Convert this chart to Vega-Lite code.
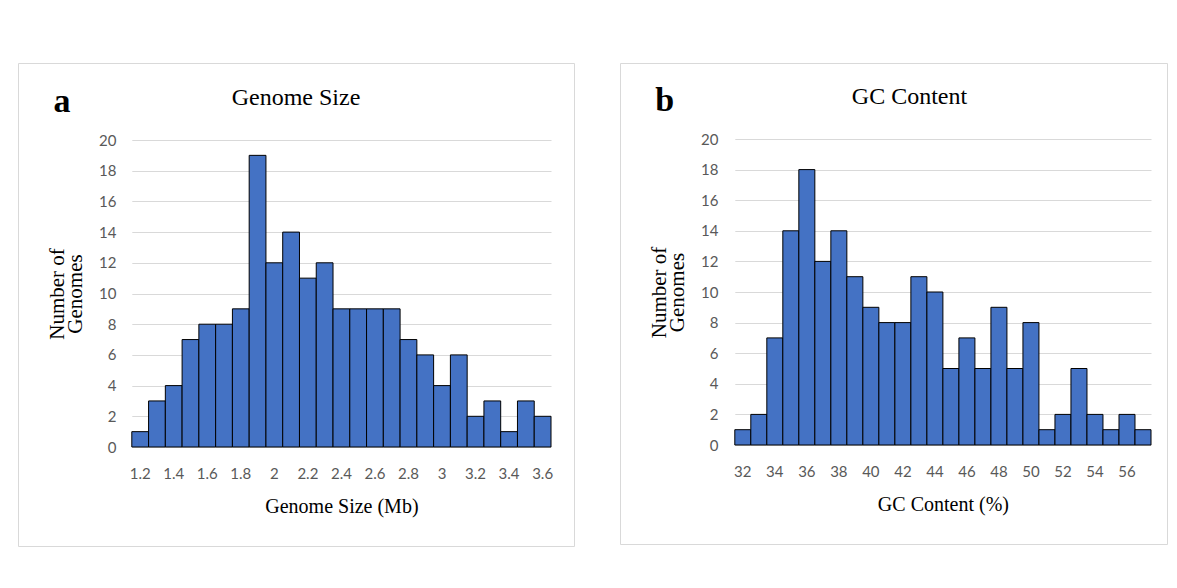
{
  "$schema": "https://vega.github.io/schema/vega-lite/v6.json",
  "background": "white",
  "padding": {"left": 17, "top": 62, "right": 9, "bottom": 38},
  "datasets": {
    "sizes": [
      {"size": 1.2, "count": 1}, {"size": 1.3, "count": 3}, {"size": 1.4, "count": 4}, {"size": 1.5, "count": 7},
      {"size": 1.6, "count": 8}, {"size": 1.7, "count": 8}, {"size": 1.8, "count": 9}, {"size": 1.9, "count": 19},
      {"size": 2.0, "count": 12}, {"size": 2.1, "count": 14}, {"size": 2.2, "count": 11}, {"size": 2.3, "count": 12},
      {"size": 2.4, "count": 9}, {"size": 2.5, "count": 9}, {"size": 2.6, "count": 9}, {"size": 2.7, "count": 9},
      {"size": 2.8, "count": 7}, {"size": 2.9, "count": 6}, {"size": 3.0, "count": 4}, {"size": 3.1, "count": 6},
      {"size": 3.2, "count": 2}, {"size": 3.3, "count": 3}, {"size": 3.4, "count": 1}, {"size": 3.5, "count": 3},
      {"size": 3.6, "count": 2}
    ],
    "gc": [
      {"gc": 32, "count": 1}, {"gc": 33, "count": 2}, {"gc": 34, "count": 7}, {"gc": 35, "count": 14},
      {"gc": 36, "count": 18}, {"gc": 37, "count": 12}, {"gc": 38, "count": 14}, {"gc": 39, "count": 11},
      {"gc": 40, "count": 9}, {"gc": 41, "count": 8}, {"gc": 42, "count": 8}, {"gc": 43, "count": 11},
      {"gc": 44, "count": 10}, {"gc": 45, "count": 5}, {"gc": 46, "count": 7}, {"gc": 47, "count": 5},
      {"gc": 48, "count": 9}, {"gc": 49, "count": 5}, {"gc": 50, "count": 8}, {"gc": 51, "count": 1},
      {"gc": 52, "count": 2}, {"gc": 53, "count": 5}, {"gc": 54, "count": 2}, {"gc": 55, "count": 1},
      {"gc": 56, "count": 2}, {"gc": 57, "count": 1}
    ],
    "labelA": [{"label": "a"}],
    "labelB": [{"label": "b"}]
  },
  "hconcat": [
    {
      "width": 556,
      "height": 483,
      "title": {"text": "Genome Size", "offset": -66, "baseline": "alphabetic", "dx": 0},
      "layer": [
        {
          "data": {"name": "sizes"},
          "mark": {"type": "bar", "fill": "#4472C4", "stroke": "#000000", "strokeWidth": 1},
          "encoding": {
            "x": {
              "field": "size", "type": "ordinal",
              "scale": {"range": [113.8, 533], "paddingInner": 0, "paddingOuter": 0},
              "axis": {
                "title": "Genome Size (Mb)",
                "values": [1.2, 1.4, 1.6, 1.8, 2, 2.2, 2.4, 2.6, 2.8, 3, 3.2, 3.4, 3.6],
                "labelAngle": 0, "offset": -99, "labelPadding": 19, "titlePadding": 15,
                "labelOverlap": false, "labelBound": false,
                "domain": false, "ticks": false, "grid": false
              }
            },
            "y": {
              "field": "count", "type": "quantitative",
              "scale": {"domain": [0, 20], "range": [384, 77], "nice": false},
              "axis": {
                "title": ["Number of", "Genomes"],
                "values": [0, 2, 4, 6, 8, 10, 12, 14, 16, 18, 20],
                "offset": -114, "labelPadding": 16, "titlePadding": 13,
                "domain": false, "ticks": false, "grid": true
              }
            }
          }
        },
        {
          "data": {"name": "labelA"},
          "mark": {"type": "text", "font": "Liberation Serif", "fontWeight": "bold", "fontSize": 34, "align": "center", "baseline": "alphabetic", "dx": -95, "dy": -28, "color": "#000000"},
          "encoding": {
            "x": {"datum": 1.3, "type": "ordinal"},
            "y": {"datum": 20, "type": "quantitative"},
            "text": {"field": "label"}
          }
        }
      ]
    },
    {
      "width": 547,
      "height": 481,
      "title": {"text": "GC Content", "offset": -65, "baseline": "alphabetic", "dx": 16},
      "layer": [
        {
          "data": {"name": "gc"},
          "mark": {"type": "bar", "fill": "#4472C4", "stroke": "#000000", "strokeWidth": 1},
          "encoding": {
            "x": {
              "field": "gc", "type": "ordinal",
              "scale": {"range": [114.8, 531], "paddingInner": 0, "paddingOuter": 0},
              "axis": {
                "title": "GC Content (%)",
                "values": [32, 34, 36, 38, 40, 42, 44, 46, 48, 50, 52, 54, 56],
                "labelAngle": 0, "offset": -99, "labelPadding": 19, "titlePadding": 15,
                "labelOverlap": false, "labelBound": false,
                "domain": false, "ticks": false, "grid": false
              }
            },
            "y": {
              "field": "count", "type": "quantitative",
              "scale": {"domain": [0, 20], "range": [382, 76], "nice": false},
              "axis": {
                "title": ["Number of", "Genomes"],
                "values": [0, 2, 4, 6, 8, 10, 12, 14, 16, 18, 20],
                "offset": -115, "labelPadding": 17, "titlePadding": 13,
                "domain": false, "ticks": false, "grid": true
              }
            }
          }
        },
        {
          "data": {"name": "labelB"},
          "mark": {"type": "text", "font": "Liberation Serif", "fontWeight": "bold", "fontSize": 34, "align": "center", "baseline": "alphabetic", "dx": -78, "dy": -28, "color": "#000000"},
          "encoding": {
            "x": {"datum": 32, "type": "ordinal"},
            "y": {"datum": 20, "type": "quantitative"},
            "text": {"field": "label"}
          }
        }
      ]
    }
  ],
  "spacing": 44,
  "config": {
    "view": {"stroke": "#d9d9d9", "strokeWidth": 1},
    "title": {"font": "Liberation Serif", "fontSize": 24, "fontWeight": "normal", "color": "#000000", "anchor": "middle"},
    "axis": {
      "labelFont": "Lato", "labelFontSize": 15, "labelColor": "#595959",
      "titleFont": "Liberation Serif", "titleFontSize": 20, "titleFontWeight": "normal", "titleColor": "#000000",
      "gridColor": "#d9d9d9", "gridWidth": 1
    },
    "axisX": {"labelBaseline": "top"},
    "axisY": {"titleLineHeight": 18, "titleFontSize": 21}
  }
}
